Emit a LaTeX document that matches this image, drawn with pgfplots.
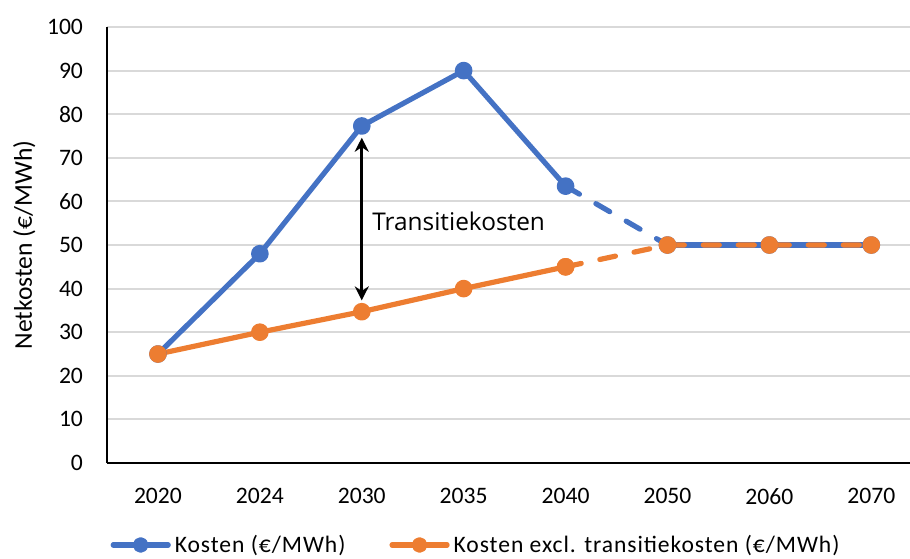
\documentclass[border=0pt]{standalone}
\usepackage{fontspec}
\setmainfont{Carlito}
\newfontfamily\annfont{Open Sans}
\newfontfamily\legfont[LetterSpace=4]{Carlito}
\usepackage{pgfplots}
\pgfplotsset{compat=1.18}
\usetikzlibrary{arrows.meta}
\definecolor{xblue}{HTML}{4472C4}
\definecolor{xorange}{HTML}{ED7D31}
\definecolor{xgrid}{HTML}{D9D9D9}
\newcommand\fs{\fontsize{11.8}{14}\selectfont}
\begin{document}
\begin{tikzpicture}
\begin{axis}[
  scale only axis,
  width=401.5pt, height=218pt,
  xmin=-0.5, xmax=7.38,
  ymin=0, ymax=100,
  ytick={0,10,...,100},
  xtick={0,...,7},
  xticklabels={2020,2024,2030,2035,2040,2050,2060,2070},
  axis x line*=bottom, axis y line*=left,
  axis line style={black, line width=1pt, -},
  major tick length=0pt,
  ymajorgrids, grid style={xgrid, line width=1pt},
  tick label style={font=\fs},
  /pgf/number format/assume math mode=true,
  yticklabel style={xshift=-8.5pt},
  xticklabel style={yshift=-9pt},
  ylabel={Netkosten (€/MWh)},
  ylabel style={font=\fontsize{12.8}{15}\selectfont, at={(axis description cs:-0.103,0.5)}, anchor=center, rotate=0},
  legend columns=2,
  legend style={draw=none, font=\fs\legfont, at={(0.004,-0.188)}, anchor=west, inner sep=0pt,
    /tikz/every even column/.append style={column sep=20pt}},
  legend cell align=left,
  legend image code/.code={\draw[#1, mark size=2.6pt, mark repeat=2, mark phase=2] plot coordinates {(0pt,0pt) (13.75pt,0pt) (27.5pt,0pt)};},
  every axis plot/.append style={line width=2.6pt, line cap=round, line join=round},
  mark size=3.1pt,
]
\addplot[xblue, mark=*, mark options={solid, fill=xblue}] coordinates {(0,25) (1,48) (2,77.3) (3,90) (4,63.5)};
\addlegendentry{Kosten (€/MWh)}
\addplot[xorange, mark=*, mark options={solid, fill=xorange}] coordinates {(0,25) (1,30) (2,34.7) (3,40) (4,45)};
\addlegendentry{Kosten excl. transitiekosten (€/MWh)}
\addplot[xblue, dash pattern=on 8pt off 9.5pt, forget plot] coordinates {(4,63.5) (5,50)};
\addplot[xblue, mark=*, mark options={solid, fill=xblue}, forget plot] coordinates {(5,50) (6,50) (7,50)};
\addplot[xorange, dash pattern=on 8pt off 9.5pt, mark=*, mark options={solid, fill=xorange}, forget plot] coordinates {(4,45) (5,50) (6,50) (7,50)};
\draw[black, line width=1.5pt, {Stealth[length=7pt,width=7pt]}-{Stealth[length=7pt,width=7pt]}] (axis cs:2,74.6) -- (axis cs:2,37.3);
\node[anchor=west, font=\annfont\fontsize{12.2}{14}\selectfont, inner sep=0pt] at (axis cs:2.1,55.5) {Transitiekosten};
\end{axis}
\pgfresetboundingbox
\useasboundingbox (-53.5pt,-47.5pt) rectangle (401.5pt,231.5pt);
\end{tikzpicture}
\end{document}
